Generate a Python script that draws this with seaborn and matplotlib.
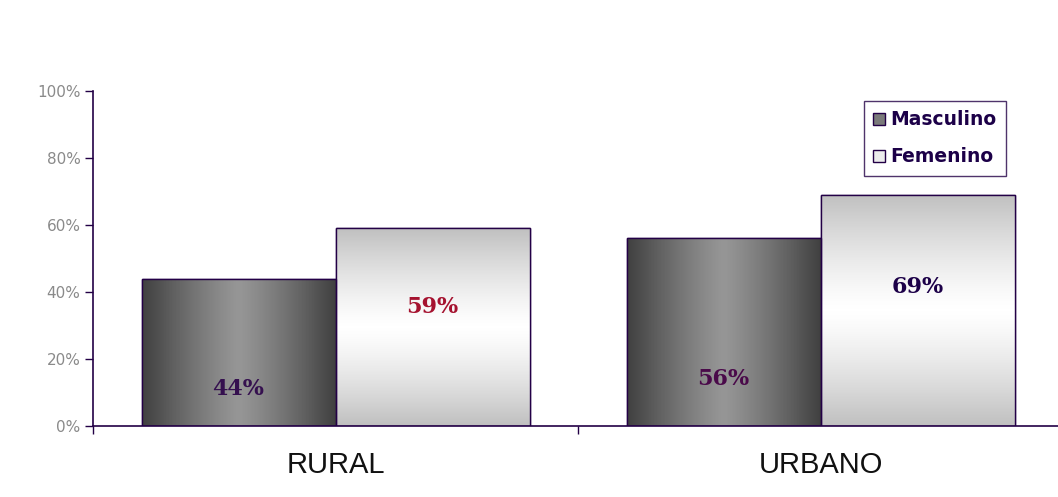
import numpy as np
import pandas as pd
import matplotlib
matplotlib.use("Agg")
import matplotlib.pyplot as plt
import seaborn as sns
from matplotlib.patches import Patch

categories = ["RURAL", "URBANO"]
series = ["Masculino", "Femenino"]
masculino = [44, 56]
femenino = [59, 69]
yticks = [0, 20, 40, 60, 80, 100]
ytick_labels = ["0%", "20%", "40%", "60%", "80%", "100%"]

df = pd.DataFrame({
    "area": categories * 2,
    "sexo": [series[0]] * 2 + [series[1]] * 2,
    "valor": masculino + femenino,
})

sns.set_theme(style="white")
plt.rcParams["font.family"] = ["Liberation Sans", "DejaVu Sans"]

fig = plt.figure(figsize=(10.58, 4.97), dpi=100)
fig.patch.set_facecolor("white")
ax = fig.add_axes([93 / 1058, 71 / 497, 970 / 1058, 335 / 497])

edge = "#230046"
sns.barplot(data=df, x="area", y="valor", hue="sexo", order=categories,
            hue_order=series, palette=["#808080", "#e0e0e0"], width=0.8,
            edgecolor=edge, linewidth=1.0, legend=False, ax=ax, zorder=2)

# gradient fills clipped to bars
hgrad = np.abs(np.linspace(-1, 1, 256))  # 0 at center
masc_cmap = matplotlib.colors.LinearSegmentedColormap.from_list(
    "m", ["#969696", "#404040"])
fem_cmap = matplotlib.colors.LinearSegmentedColormap.from_list(
    "f", ["#ffffff", "#c0c0c0"])
n_cat = len(categories)
for i, bar in enumerate(ax.patches[:2 * n_cat]):
    x0, y0 = bar.get_x(), bar.get_y()
    w, h = bar.get_width(), bar.get_height()
    if i < n_cat:
        img = hgrad[np.newaxis, :] ** 1.2
        cmap = masc_cmap
    else:
        img = (hgrad[:, np.newaxis]) ** 1.3
        cmap = fem_cmap
    im = ax.imshow(img, cmap=cmap, aspect="auto", vmin=0, vmax=1,
                   extent=[x0, x0 + w, y0, y0 + h], zorder=2.5,
                   interpolation="bilinear")
    im.set_clip_path(bar)
    outline = plt.Rectangle((x0, y0), w, h, fill=False, edgecolor=edge,
                            linewidth=1.0, zorder=3)
    ax.add_patch(outline)

# value labels
label_colors_m = ["#35104f", "#4a0a4a"]
label_colors_f = ["#a5122f", "#1c0048"]
bars = ax.patches
for i in range(n_cat):
    bm = bars[i]
    ax.text(bm.get_x() + bm.get_width() / 2, masculino[i] * 0.25,
            f"{masculino[i]}%", ha="center", va="center",
            family=["DejaVu Serif"], fontsize=16, weight="bold",
            color=label_colors_m[i], zorder=5)
    bf = bars[n_cat + i]
    ax.text(bf.get_x() + bf.get_width() / 2, femenino[i] * 0.6,
            f"{femenino[i]}%", ha="center", va="center",
            family=["DejaVu Serif"], fontsize=16, weight="bold",
            color=label_colors_f[i], zorder=5)

ax.set_xlim(-0.5, 1.5)
ax.set_ylim(0, 100)
ax.set_yticks(yticks)
ax.set_yticklabels(ytick_labels, color="#8a8a8a", fontsize=11,
                   family=["DejaVu Sans"])
ax.set_xticks(range(n_cat))
ax.set_xticklabels(categories, fontsize=21, color="#111111")
ax.set_xticks([-0.5, 0.5, 1.5], minor=True)
ax.tick_params(axis="x", which="major", length=0, pad=18)
ax.tick_params(axis="x", which="minor", length=6, color=edge, width=1,
               direction="out", bottom=True)
ax.tick_params(axis="y", length=6, color=edge, width=1, direction="out",
               left=True, pad=3)
ax.set_xlabel("")
ax.set_ylabel("")
for side in ["top", "right"]:
    ax.spines[side].set_visible(False)
for side in ["left", "bottom"]:
    ax.spines[side].set_color(edge)
    ax.spines[side].set_linewidth(1.2)
ax.set_facecolor("white")

handles = [Patch(facecolor="#7a7a7a", edgecolor=edge, label=series[0]),
           Patch(facecolor="#ececec", edgecolor=edge, label=series[1])]
leg = ax.legend(handles=handles, loc="upper left",
                bbox_to_anchor=((864 - 93) / 970, (426 - 101) / 335),
                frameon=True, fancybox=False,
                prop={"size": 13.5, "weight": "bold", "family": "DejaVu Sans"},
                handlelength=0.6, handleheight=0.6, handletextpad=0.3,
                labelspacing=0.95, borderpad=0.5, borderaxespad=0.0)
leg.get_frame().set_edgecolor(edge)
leg.get_frame().set_linewidth(1.0)
for t in leg.get_texts():
    t.set_color("#1c0048")

fig.savefig("out.png", dpi=100, facecolor="white")
